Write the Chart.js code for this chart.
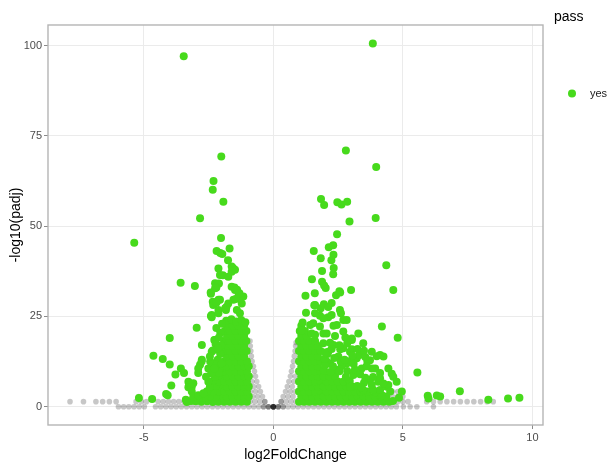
<!DOCTYPE html>
<html>
<head>
<meta charset="utf-8">
<script src="https://cdn.jsdelivr.net/npm/chart.js@4.4.1/dist/chart.umd.min.js"></script>
<style>
  html, body { margin: 0; padding: 0; background: #ffffff; }
  canvas { display: block; }
</style>
</head>
<body>
<canvas id="c" width="608" height="464"></canvas>
<script>
// ---- tick labels ----
const xTicks = [-5, 0, 5, 10];
const yTicks = [0, 25, 50, 75, 100];

// ---- pass = "yes" (green), left arm: [log2FoldChange, -log10(padj)] ----
const passLeftSparse = [
  [-3.46,97.1],[-2.01,69.3],[-2.31,62.5],[-2.34,60.1],[-1.93,56.8],[-2.83,52.2],[-5.37,45.4],[-2.02,46.7],
  [-2.19,43.1],[-2.05,42.6],[-1.97,42.3],[-1.69,43.8],[-1.75,40.6],[-2.12,38.3],[-1.61,38.8],[-1.56,38.4],
  [-1.48,37.9],[-2.06,36.5],[-1.95,36.4],[-1.74,36.0],[-1.61,37.4],[-3.58,34.3],[-3.03,33.4],[-2.25,34.2],
  [-2.10,34.1],[-2.20,33.0],[-2.25,32.8],[-1.61,33.2],[-1.50,33.0],[-1.48,32.3],[-1.40,32.4],[-2.41,31.3],
  [-2.42,31.6],[-1.35,30.5],[-1.16,30.5],[-1.31,31.4],[-1.54,29.6],[-1.45,29.8],[-2.12,29.6],[-2.34,29.1],
  [-2.06,29.6],[-1.74,28.6],[-1.22,28.6],[-2.32,28.2],[-2.20,28.8],[-1.81,27.6],[-2.12,26.8],[-1.86,27.3],
  [-1.41,26.8],[-1.83,26.8],[-1.29,25.9],[-2.38,25.4],[-2.12,25.9],[-2.38,24.8],[-2.41,25.1],
  [-2.96,21.9],[-4.00,19.0],[-2.28,18.5],[-2.25,18.5],[-2.76,17.1],[-2.23,17.4],[-2.12,15.7],[-2.38,15.2],
  [-2.34,15.6],[-4.63,14.1],[-4.27,13.2],[-2.76,13.0],[-2.44,12.5],[-2.32,12.0],[-4.00,11.7],[-3.57,10.6],
  [-2.83,11.6],[-2.90,10.6],[-2.51,10.6],[-2.06,10.6],[-2.77,12.5],[-3.45,9.3],[-3.78,8.9],[-2.90,9.3],
  [-2.32,10.2],[-2.25,8.3],[-3.94,5.9],[-3.28,6.9],[-3.25,6.5],[-3.09,6.5],[-3.28,5.4],[-3.15,5.5],
  [-3.15,4.2],[-2.51,6.9],[-5.19,2.4],[-4.68,2.1],[-4.14,3.5],[-4.08,3.2],[-3.38,1.9],[-3.34,1.3],
  [-3.09,2.8],[-2.90,3.2],[-2.70,3.7],
  [-2.05,20.5],[-2.20,21.8],[-1.98,23.0],[-2.10,19.2],[-2.45,13.9],[-2.15,13.0],[-2.05,14.6],[-2.18,11.8],
  [-2.40,9.2],[-2.60,8.3],[-2.10,9.4],[-2.02,17.0],[-2.15,16.2],[-2.00,12.0],[-2.28,10.6]
];
const passLeftDense = [
  [-2.12,1.4],[-2.34,1.3],[-2.56,1.5],[-2.78,1.4],[-3.00,1.5],[-3.18,1.6],
  [-2.01,2.8],[-2.23,2.7],[-2.45,2.9],[-2.67,2.6],[-2.88,2.5],
  [-2.12,4.2],[-2.34,4.1],[-2.56,4.3],
  [-2.01,5.6],[-2.23,5.7],[-2.45,5.5],
  [-2.12,7.0],[-2.34,7.1],[-2.01,8.4],
  [-1.90,1.4],[-1.68,1.4],[-1.46,1.4],[-1.24,1.4],[-1.02,1.4],
  [-1.79,2.8],[-1.57,2.8],[-1.35,2.8],[-1.13,2.8],[-0.95,2.8],
  [-1.90,4.2],[-1.68,4.2],[-1.46,4.2],[-1.24,4.2],[-1.02,4.2],
  [-1.79,5.6],[-1.57,5.6],[-1.35,5.6],[-1.13,5.6],[-0.95,5.6],
  [-1.90,7.0],[-1.68,7.0],[-1.46,7.0],[-1.24,7.0],[-1.02,7.0],
  [-1.79,8.4],[-1.57,8.4],[-1.35,8.4],[-1.13,8.4],[-0.95,8.4],
  [-1.90,9.8],[-1.68,9.8],[-1.46,9.8],[-1.24,9.8],[-1.02,9.8],
  [-1.79,11.2],[-1.57,11.2],[-1.35,11.2],[-1.13,11.2],[-0.95,11.2],
  [-1.90,12.6],[-1.68,12.6],[-1.46,12.6],[-1.24,12.6],[-1.02,12.6],
  [-1.79,14.0],[-1.57,14.0],[-1.35,14.0],[-1.13,14.0],
  [-1.90,15.4],[-1.68,15.4],[-1.46,15.4],[-1.24,15.4],[-1.03,15.4],
  [-1.79,16.8],[-1.57,16.8],[-1.35,16.8],[-1.13,16.8],
  [-1.90,18.2],[-1.68,18.2],[-1.46,18.2],[-1.24,18.2],[-1.04,18.2],
  [-1.79,19.6],[-1.57,19.6],[-1.35,19.6],[-1.13,19.6],
  [-1.88,21.0],[-1.68,21.0],[-1.46,21.0],[-1.24,21.0],[-1.04,21.0],
  [-1.79,22.4],[-1.57,22.4],[-1.35,22.4],[-1.13,22.4],
  [-1.82,23.8],[-1.62,24.2],[-1.44,23.6],[-1.24,24.0],[-1.08,23.4]
];

// ---- pass = "yes" (green), right arm ----
const passRightSparse = [
  [3.84,100.6],[2.80,71.0],[3.97,66.4],[1.84,57.5],[1.96,55.9],[2.47,56.6],[2.63,56.0],[2.85,56.8],
  [2.94,51.3],[3.95,52.3],[2.46,47.8],[1.56,43.1],[2.14,44.2],[2.31,44.7],[1.83,41.1],[2.32,42.1],
  [2.24,40.6],[1.88,37.6],[2.33,38.4],[2.31,36.7],[4.36,39.2],[1.49,35.3],[1.88,34.6],[1.96,33.6],
  [2.02,32.9],[2.55,32.0],[2.42,30.9],[3.00,32.3],[4.63,32.3],[1.24,30.7],[1.60,31.4],[2.58,31.6],
  [1.61,28.2],[1.95,28.4],[2.25,28.7],[1.83,27.3],[2.57,26.8],[1.58,28.1],[2.12,27.6],
  [1.26,26.0],[1.80,25.2],[2.12,24.8],[2.61,25.9],[2.70,24.0],[1.61,25.9],[1.93,24.5],[2.25,25.4],
  [2.83,24.0],[1.13,23.3],[1.54,23.1],[2.32,22.4],[4.19,22.2],[1.42,22.6],[1.80,22.2],[2.45,22.6],
  [1.10,21.1],[1.48,20.3],[1.93,20.3],[2.06,20.3],[2.70,20.8],[3.28,20.3],[2.38,19.6],[2.78,19.2],
  [3.03,18.9],[4.80,19.1],[1.61,19.9],[1.93,17.6],[2.32,17.1],[2.70,16.2],[3.47,17.6],[3.03,18.5],
  [2.19,17.7],[2.96,15.2],[2.12,15.2],[2.58,15.9],[3.03,15.9],[3.80,15.2],[2.51,13.9],[4.25,13.9],
  [4.12,14.3],[3.99,14.0],[3.22,13.4],[3.32,14.3],[2.09,14.6],[3.73,12.9],[3.63,12.5],[2.06,12.5],
  [2.19,12.0],[2.83,12.0],[2.99,12.7],[3.41,10.6],[4.44,10.6],[3.93,10.6],[3.80,10.6],[2.64,11.3],
  [2.45,10.2],[3.09,9.3],[4.12,9.3],[4.57,9.1],[4.63,8.3],[5.56,9.5],[3.09,8.8],[3.73,7.4],
  [4.05,6.9],[4.76,6.9],[4.12,7.9],[4.38,5.5],[4.44,6.0],[4.96,4.2],[4.51,4.2],[3.86,4.6],
  [3.47,4.6],[4.19,3.2],[2.96,5.5],[4.12,4.6],
  [5.96,3.0],[5.99,2.3],[6.31,3.1],[6.44,2.8],[7.20,4.3],[8.30,1.9],[9.06,2.3],[9.50,2.5],
  [1.95,10.0],[2.20,9.6],[2.55,9.8],[2.85,9.9],[3.15,10.3],[2.00,11.5],[2.30,11.2],[2.60,12.5],
  [3.10,11.8],[1.98,13.2],[2.35,13.5],[2.75,13.0],[3.05,14.2],[2.00,15.0],[2.25,16.0],[2.55,17.0],
  [2.85,17.5],[3.25,16.0],[3.50,15.5],[3.55,13.8],[3.60,11.2],[3.35,9.0],[3.55,8.0],[3.85,8.2],
  [3.50,6.6],[3.80,6.0],[4.25,6.4],[3.40,5.4],[4.62,1.6],[4.85,2.5]
];
const passRightDense = [
  [0.99,1.4],[1.19,1.4],[1.39,1.4],[1.61,1.4],[1.83,1.4],
  [1.08,2.8],[1.28,2.8],[1.50,2.8],[1.72,2.8],
  [0.99,4.2],[1.19,4.2],[1.39,4.2],[1.61,4.2],[1.83,4.2],
  [1.08,5.6],[1.28,5.6],[1.50,5.6],[1.72,5.6],
  [0.99,7.0],[1.19,7.0],[1.39,7.0],[1.61,7.0],[1.83,7.0],
  [1.08,8.4],[1.28,8.4],[1.50,8.4],[1.72,8.4],
  [0.99,9.8],[1.19,9.8],[1.39,9.8],[1.61,9.8],[1.83,9.8],
  [1.08,11.2],[1.28,11.2],[1.50,11.2],[1.72,11.2],
  [0.99,12.6],[1.19,12.6],[1.39,12.6],[1.61,12.6],[1.83,12.6],
  [1.08,14.0],[1.28,14.0],[1.50,14.0],[1.72,14.0],
  [0.99,15.4],[1.19,15.4],[1.39,15.4],[1.61,15.4],[1.82,15.4],
  [1.08,16.8],[1.28,16.8],[1.50,16.8],[1.72,16.8],
  [0.99,18.2],[1.19,18.2],[1.39,18.2],[1.61,18.2],
  [1.08,19.6],[1.28,19.6],[1.02,21.0],[1.22,21.0],[1.08,22.4],
  [2.05,1.4],[2.27,1.4],[2.49,1.4],[2.71,1.4],[2.93,1.4],[3.15,1.4],
  [1.94,2.8],[2.16,2.8],[2.38,2.8],[2.60,2.8],[2.82,2.8],[3.04,2.8],[3.26,2.8],
  [2.05,4.2],[2.27,4.2],[2.49,4.2],[2.71,4.2],[2.93,4.2],[3.15,4.2],
  [1.94,5.6],[2.16,5.6],[2.38,5.6],[2.60,5.6],[2.82,5.6],[3.04,5.6],[3.24,5.7],
  [2.05,7.0],[2.27,7.0],[2.49,7.0],[2.71,7.0],[2.95,7.1],
  [1.94,8.4],[2.16,8.4],[2.38,8.5],[2.80,8.3],
  [3.37,1.4],[3.59,1.4],[3.81,1.4],[4.03,1.4],[4.25,1.4],[4.47,1.4],
  [3.48,2.8],[3.70,2.8],[3.92,2.8],[4.14,2.8],[4.36,2.8],
  [3.37,4.2],[3.65,4.2],[3.95,4.0]
];

// ---- pass = "no" (grey, semi-transparent) ----
const failPts = [
  [-7.85,1.4],[-7.33,1.4],[-6.85,1.4],[-6.59,1.4],[-6.33,1.4],[-6.07,1.4],
  [-5.30,1.4],[-5.10,1.4],[-4.90,1.4],[-5.20,2.8],
  [-4.45,1.4],[-4.25,1.4],[-4.05,1.4],[-3.85,1.4],[-3.65,1.4],[-3.45,1.4],[-3.25,1.4],[-3.05,1.4],[-2.85,1.4],
  [-5.98,0],[-5.78,0],[-5.58,0],[-5.38,0],[-5.18,0],[-4.98,0],[-4.55,0],[-4.35,0],[-4.15,0],[-3.95,0],
  [-3.75,0],[-3.55,0],[-3.35,0],[-3.15,0],[-2.95,0],[-2.75,0],[-2.55,0],[-2.35,0],[-2.15,0],[-1.95,0],
  [-1.75,0],[-1.55,0],[-1.35,0],[-1.15,0],[-0.95,0],[-0.76,0],[-0.57,0],[-0.38,0],[-0.19,0],[0,0],
  [0.19,0],[0.38,0],[0.57,0],[0.76,0],[0.95,0],[1.15,0],[1.35,0],[1.55,0],[1.75,0],[1.95,0],
  [2.15,0],[2.35,0],[2.55,0],[2.75,0],[2.95,0],[3.15,0],[3.35,0],[3.55,0],[3.75,0],[3.95,0],
  [4.15,0],[4.35,0],[4.55,0],[4.75,0],[5.02,0],[5.28,0],[5.54,0],[6.18,0],
  [4.60,1.4],[4.80,1.4],[5.00,1.4],[5.20,1.4],[5.92,1.4],[6.18,1.4],[6.44,1.4],[6.70,1.4],[6.96,1.4],
  [7.22,1.4],[7.48,1.4],[7.74,1.4],[8.00,1.4],[8.25,1.4],[8.49,1.4],
  [4.40,2.8],[4.60,2.8],[4.80,2.8],[5.00,2.8],[4.60,4.2],[4.80,4.2],
  [-0.33,1.4],[-0.52,1.4],[-0.71,1.4],[-0.90,1.4],[-0.42,2.8],[-0.61,2.8],[-0.80,2.8],
  [-0.50,4.2],[-0.69,4.2],[-0.88,4.2],[-0.57,5.6],[-0.76,5.6],[-0.64,7.0],[-0.83,7.0],
  [-0.69,8.4],[-0.88,8.4],[-0.73,9.8],[-0.77,11.2],[-0.82,12.6],[-0.85,14.0],[-0.87,15.4],
  [-0.89,16.8],[-0.90,18.2],
  [0.30,1.4],[0.49,1.4],[0.68,1.4],[0.87,1.4],[0.38,2.8],[0.57,2.8],[0.76,2.8],
  [0.47,4.2],[0.66,4.2],[0.85,4.2],[0.54,5.6],[0.73,5.6],[0.60,7.0],[0.79,7.0],
  [0.66,8.4],[0.85,8.4],[0.70,9.8],[0.74,11.2],[0.78,12.6],[0.81,14.0],[0.84,15.4],
  [0.86,16.8],[0.88,17.8],
  [0,0],[0,0],[0,0],[0,0],[0,0],[0,0],[-0.19,0],[-0.19,0],[0.19,0],[0.19,0],
  [-0.33,1.4],[0.30,1.4],[-0.38,0],[0.38,0]
];

const GREEN = '#47da1c';
const toXY = a => a.map(p => ({ x: p[0], y: p[1] }));

const panelPlugin = {
  id: 'panel',
  afterDatasetsDraw(chart) {
    const { ctx, chartArea: a } = chart;
    ctx.save();
    ctx.strokeStyle = '#b5b5b5';
    ctx.lineWidth = 1.4;
    ctx.strokeRect(a.left, a.top, a.right - a.left, a.bottom - a.top);
    ctx.restore();
  },
  afterDraw(chart) {
    const { ctx } = chart;
    ctx.save();
    ctx.fillStyle = '#000';
    ctx.font = '14px "Liberation Sans", Arial, sans-serif';
    ctx.textBaseline = 'alphabetic';
    ctx.fillText('pass', 554, 21);
    ctx.fillStyle = GREEN;
    ctx.beginPath();
    ctx.arc(572, 93.5, 4, 0, Math.PI * 2);
    ctx.fill();
    ctx.fillStyle = '#1a1a1a';
    ctx.font = '11px "Liberation Sans", Arial, sans-serif';
    ctx.textBaseline = 'middle';
    ctx.fillText('yes', 590, 94);
    ctx.restore();
  }
};

new Chart(document.getElementById('c'), {
  type: 'scatter',
  data: {
    datasets: [
      {
        label: 'yes',
        data: toXY(passLeftDense.concat(passRightDense, passLeftSparse, passRightSparse)),
        backgroundColor: GREEN,
        borderWidth: 0,
        pointRadius: 4,
        pointHoverRadius: 4,
        order: 0
      },
      {
        label: 'no',
        data: toXY(failPts),
        backgroundColor: 'rgba(0,0,0,0.22)',
        borderWidth: 0,
        pointRadius: 2.8,
        pointHoverRadius: 2.8,
        order: 1
      }
    ]
  },
  options: {
    responsive: false,
    animation: false,
    events: [],
    layout: { padding: { left: 0, top: 25, right: 65, bottom: 0 } },
    plugins: { legend: { display: false }, tooltip: { enabled: false } },
    scales: {
      x: {
        type: 'linear',
        min: -8.70, max: 10.41,
        afterBuildTicks: s => { s.ticks = xTicks.map(v => ({ value: v })); },
        afterFit: s => { s.height = 39; },
        grid: { color: '#ebebeb', lineWidth: 1, tickLength: 4, tickColor: '#8a8a8a', drawTicks: true },
        border: { display: false },
        ticks: { color: '#4d4d4d', font: { family: '"Liberation Sans", Arial, sans-serif', size: 11 }, padding: 2, maxRotation: 0 },
        title: { display: true, text: 'log2FoldChange', color: '#000', font: { family: '"Liberation Sans", Arial, sans-serif', size: 14 }, padding: { top: 0, bottom: 0 } }
      },
      y: {
        type: 'linear',
        min: -5.07, max: 105.73,
        afterBuildTicks: s => { s.ticks = yTicks.map(v => ({ value: v })); },
        afterFit: s => { s.width = 48; },
        grid: { color: '#ebebeb', lineWidth: 1, tickLength: 4, tickColor: '#8a8a8a', drawTicks: true },
        border: { display: false },
        ticks: { color: '#4d4d4d', font: { family: '"Liberation Sans", Arial, sans-serif', size: 11 }, padding: 2 },
        title: { display: true, text: '-log10(padj)', color: '#000', font: { family: '"Liberation Sans", Arial, sans-serif', size: 14 }, padding: { top: 8, bottom: 0 } }
      }
    }
  },
  plugins: [panelPlugin]
});
</script>
</body>
</html>
